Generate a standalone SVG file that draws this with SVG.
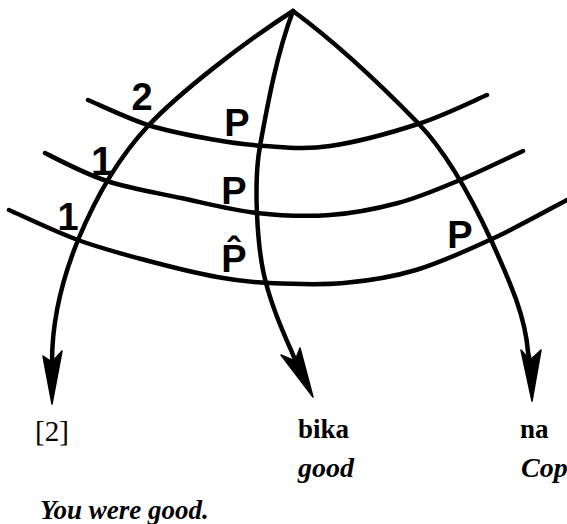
<svg xmlns="http://www.w3.org/2000/svg" width="567" height="524" viewBox="0 0 567 524">
<style>
.ln{fill:none;stroke:#000;stroke-width:4.5;stroke-linecap:round;stroke-linejoin:round}
.ah{fill:#000;stroke:#000;stroke-width:1.5;stroke-linejoin:round}
.hl{font-family:"Liberation Sans",Arial,sans-serif;font-weight:bold;fill:#000;text-anchor:middle}
.sr{font-family:"Liberation Serif","Times New Roman",serif;fill:#000}
.b{font-weight:bold}
.i{font-style:italic;font-weight:bold}
</style>
<rect width="567" height="524" fill="#fff"/>
<g id="connectors">
<path id="left-branch" class="ln" d="M293,11 C243,43 179,93 148,126 C118,158 95,199 78,240 C63,277 52,320 52,362"/>
<polygon class="ah" points="52,404 43,356 52,362 62,351"/>
<path id="mid-branch" class="ln" d="M293,11 C277,53 268,102 260,146 C256,168 256,192 257,214 C258,237 260,261 266,283 C272,306 281,328 291,350 L296,362"/>
<polygon class="ah" points="313,397 281,355 295,361 300,348"/>
<path id="right-branch" class="ln" d="M293,11 C338,44 379,83 418,123 C448,154 474,203 492,242 C507,276 525,313 528,352 L530,362"/>
<polygon class="ah" points="532,401 521,350 530,360 541,350"/>
<path id="arc1" class="ln" d="M88,100 C98,104.2 127.7,118.5 148,125 C168.3,131.5 190.5,135.5 210,139 C229.5,142.5 245,144.8 265,146 C285,147.2 304.5,149.7 330,146 C355.5,142.3 391.8,132.5 418,124 C444.2,115.5 475.5,99.8 487,95"/>
<path id="arc2" class="ln" d="M45,153 C55,158 84,173.5 107,181 C129.7,188.5 156,192.7 181,198 C206,203.3 232,210.2 257,213 C281.8,215.8 306.5,216.7 330,215 C353.5,213.3 376.3,208.8 398,203 C419.7,197.2 439.2,188.7 460,180 C480.8,171.3 512.5,155.8 523,151"/>
<path id="arc3" class="ln" d="M9,210 C20.5,215 55.3,231.7 78,240 C100.7,248.3 121.8,253.8 145,260 C168.2,266.2 196.3,273.2 217,277 C237.7,280.8 247.8,282 269,283 C290.2,284 319.5,285.2 344,283 C368.5,280.8 391,277.5 416,270 C441,262.5 468.8,249.7 494,238 C519.2,226.3 554.8,206.3 567,200"/>
</g>
<g id="labels">
<text class="hl" x="142" y="110" font-size="38">2</text>
<text class="hl" x="102" y="175" font-size="40">1</text>
<text class="hl" x="68" y="230" font-size="38">1</text>
<text class="hl" x="237" y="136" font-size="38">P</text>
<text class="hl" x="234" y="204" font-size="38">P</text>
<text class="hl" x="234" y="272" font-size="38">P̂</text>
<text class="hl" x="460" y="248" font-size="38">P</text>
</g>
<g id="node-2">
<text class="sr" x="35" y="441" font-size="29">[2]</text>
</g>
<g id="node-bika">
<text class="sr b" x="298" y="438" font-size="27">bika</text>
<text class="sr i" x="298" y="477" font-size="28">good</text>
</g>
<g id="node-na">
<text class="sr b" x="520" y="438" font-size="27">na</text>
<text class="sr i" x="521" y="477" font-size="28">Cop</text>
</g>
<g id="translation">
<text class="sr i" x="40" y="519" font-size="27">You were good.</text>
</g>
</svg>
